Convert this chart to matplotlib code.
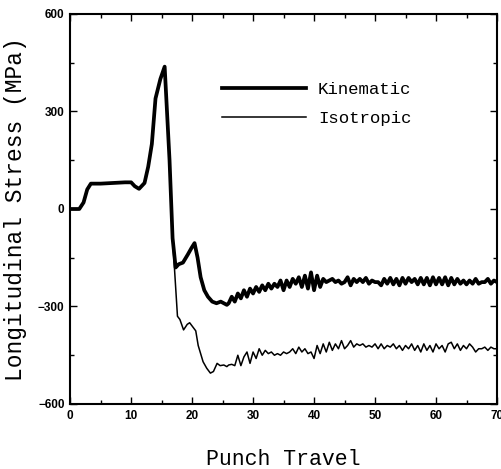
import matplotlib
matplotlib.use("Agg")
import matplotlib.pyplot as plt
from matplotlib.ticker import MultipleLocator

# punch travel / longitudinal stress (MPa)
head_x = [0, 1.5, 2.2, 2.8, 3.4, 5, 7, 9, 10, 10.6, 11.3, 12.2, 12.8, 13.4,
          14.0, 14.8, 15.5, 16.3, 16.8, 17.3]
head_y = [0, 0, 20, 60, 78, 78, 80, 82, 82, 70, 62, 80, 130, 200,
          340, 400, 438, 150, -90, -180]

kin_mid_x = [17.8, 18.5, 19.3, 19.9, 20.4, 20.9, 21.4, 22.0, 22.6, 23.3,
             24.0, 24.7, 25.2, 25.7]
kin_mid_y = [-170, -165, -140, -120, -105, -150, -210, -250, -270, -285,
             -290, -285, -290, -295]

iso_mid_x = [17.6, 18.0, 18.6, 19.2, 19.6, 20.2, 20.6, 21.0, 21.8, 22.4,
             23.0, 23.5, 24.1, 24.6, 25.2, 25.7]
iso_mid_y = [-330, -340, -372, -355, -350, -365, -375, -420, -470, -490,
             -505, -500, -475, -482, -480, -485]

tail_x = [26.0, 26.5, 27.0, 27.5, 28.0, 28.5, 29.0, 29.5, 30.0, 30.5,
          31.0, 31.5, 32.0, 32.5, 33.0, 33.5, 34.0, 34.5, 35.0, 35.5,
          36.0, 36.5, 37.0, 37.5, 38.0, 38.5, 39.0, 39.5, 40.0, 40.5,
          41.0, 41.5, 42.0, 42.5, 43.0, 43.5, 44.0, 44.5, 45.0, 45.5,
          46.0, 46.5, 47.0, 47.5, 48.0, 48.5, 49.0, 49.5, 50.0, 50.5,
          51.0, 51.5, 52.0, 52.5, 53.0, 53.5, 54.0, 54.5, 55.0, 55.5,
          56.0, 56.5, 57.0, 57.5, 58.0, 58.5, 59.0, 59.5, 60.0, 60.5,
          61.0, 61.5, 62.0, 62.5, 63.0, 63.5, 64.0, 64.5, 65.0, 65.5,
          66.0, 66.5, 67.0, 67.5, 68.0, 68.5, 69.0, 69.5, 70.0]
kin_tail_y = [-290, -270, -285, -260, -275, -250, -270, -245, -260, -240,
              -255, -235, -250, -230, -245, -230, -240, -220, -250, -220,
              -240, -215, -230, -210, -240, -205, -245, -195, -250, -205,
              -240, -215, -225, -220, -215, -225, -220, -230, -225, -210,
              -235, -215, -225, -215, -225, -212, -230, -220, -225, -225,
              -235, -215, -230, -212, -232, -215, -235, -212, -230, -212,
              -225, -215, -232, -212, -232, -212, -235, -210, -232, -212,
              -232, -210, -235, -212, -232, -215, -230, -220, -232, -220,
              -230, -215, -230, -225, -225, -215, -230, -220, -225]
iso_tail_y = [-480, -478, -482, -450, -482, -455, -440, -475, -440, -460,
              -430, -450, -435, -445, -440, -450, -445, -450, -440, -445,
              -440, -430, -445, -425, -440, -430, -445, -440, -460, -420,
              -445, -415, -440, -410, -435, -415, -430, -405, -430, -420,
              -405, -425, -415, -420, -415, -425, -420, -425, -415, -430,
              -415, -430, -420, -425, -415, -430, -420, -435, -420, -430,
              -415, -435, -420, -440, -415, -435, -420, -440, -415, -430,
              -420, -440, -415, -410, -430, -415, -435, -420, -430, -415,
              -425, -440, -430, -430, -425, -435, -425, -430, -430]

kin_x = head_x + kin_mid_x + tail_x
kin_y = head_y + kin_mid_y + kin_tail_y
iso_x = head_x[:-1] + iso_mid_x + tail_x
iso_y = head_y[:-1] + iso_mid_y + iso_tail_y

fig = plt.figure(figsize=(5.01, 4.69), dpi=100)
ax = fig.add_axes([0.14, 0.1386, 0.852, 0.8316])

ax.plot(kin_x, kin_y, color="black", lw=2.7, label="Kinematic")
ax.plot(iso_x, iso_y, color="black", lw=1.1, label="Isotropic")

ax.set_xlim(0, 70)
ax.set_ylim(-600, 600)
ax.xaxis.set_major_locator(MultipleLocator(10))
ax.xaxis.set_minor_locator(MultipleLocator(5))
ax.yaxis.set_major_locator(MultipleLocator(300))
ax.yaxis.set_minor_locator(MultipleLocator(150))
ax.tick_params(which="both", direction="in", top=True, right=True, width=1.0)
ax.tick_params(which="major", length=5, labelsize=8.5, pad=4)
ax.tick_params(which="minor", length=3)
for lab in ax.get_xticklabels() + ax.get_yticklabels():
    lab.set_fontweight("bold")
    lab.set_family("Liberation Sans")
for s in ax.spines.values():
    s.set_linewidth(1.5)

ax.set_xlabel("Punch Travel", family="Liberation Mono", fontsize=15.5, labelpad=20)
ax.set_ylabel("Longitudinal Stress (MPa)", family="Liberation Mono", fontsize=16.5, labelpad=8)

ax.legend(loc="upper left", bbox_to_anchor=(0.32, 0.865), frameon=False,
          handlelength=4.8, handletextpad=0.7, labelspacing=0.75,
          prop={"family": "Liberation Mono", "size": 12.5})

fig.savefig("out.png", dpi=100)
